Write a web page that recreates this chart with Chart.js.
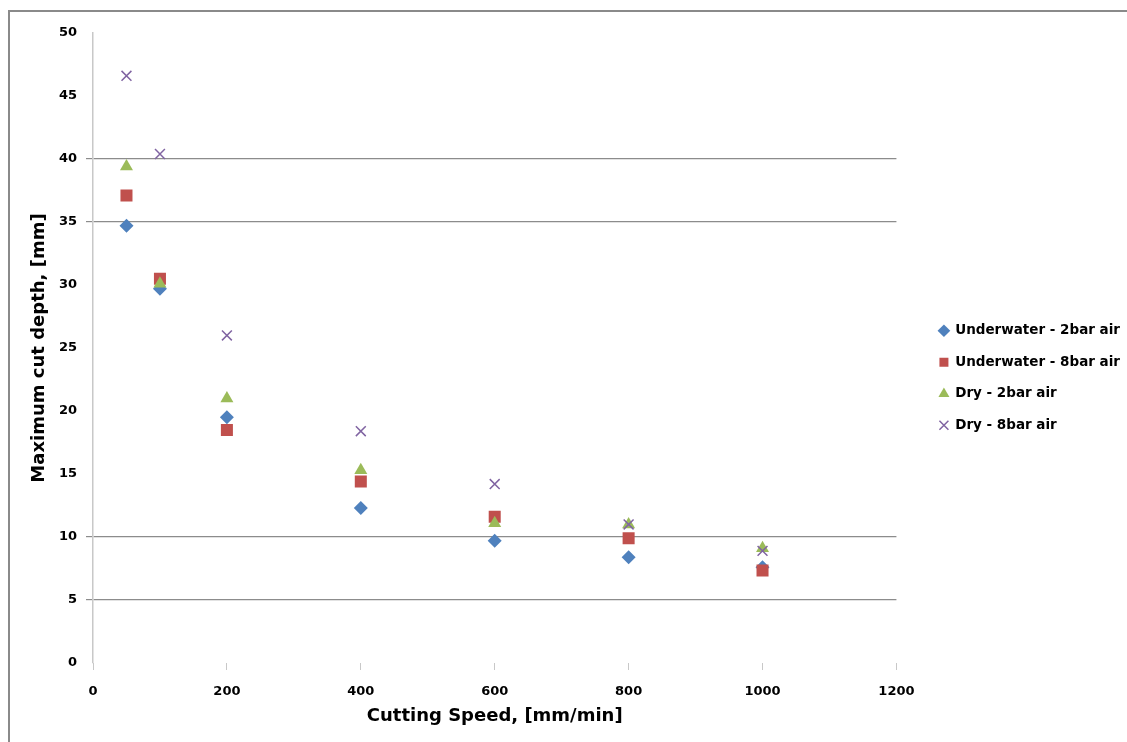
<!DOCTYPE html>
<html>
<head>
<meta charset="utf-8">
<script src="https://cdn.jsdelivr.net/npm/chart.js@4.4.0/dist/chart.umd.min.js"></script>
<style>
  html, body { margin: 0; padding: 0; background: #fff; overflow: hidden; }
  #frame {
    position: absolute;
    left: 8px;
    top: 10px;
    right: -6px;
    bottom: -6px;
    border-left: 2px solid #8a8a8a;
    border-top: 2px solid #8a8a8a;
  }
  #grafico { display: block; }
</style>
</head>
<body>
<div id="frame">
  <canvas id="grafico" width="1117" height="730"></canvas>
</div>
<script>
const velocidades = [50, 100, 200, 400, 600, 800, 1000];

const underwater2bar = [34.7, 29.7, 19.5, 12.3, 9.7, 8.4, 7.6];
const underwater8bar = [37.1, 30.5, 18.5, 14.4, 11.6, 9.9, 7.35];
const dry2bar = [39.4, 30.1, 21.0, 15.3, 11.1, 11.0, 9.1];
const dry8bar = [46.6, 40.4, 26.0, 18.4, 14.2, 11.0, 8.9];

const ticksX = [0, 200, 400, 600, 800, 1000, 1200];
const ticksY = [0, 5, 10, 15, 20, 25, 30, 35, 40, 45, 50];
const linhasVisiveis = [5, 10, 35, 40];

const fonte = "'DejaVu Sans', sans-serif";
const folga = 22; // espaço entre o gráfico e a legenda

function pontos(valores) {
  return velocidades.map((x, i) => ({ x: x, y: valores[i] }));
}

const series = [
  { label: "Underwater - 2bar air", data: underwater2bar, cor: "#4f81bd", estilo: "rectRot", raio: 7 },
  { label: "Underwater - 8bar air", data: underwater8bar, cor: "#c0504d", estilo: "rect", raio: 8.5 },
  { label: "Dry - 2bar air", data: dry2bar, cor: "#9bbb59", estilo: "triangle", raio: 7.5 },
  { label: "Dry - 8bar air", data: dry8bar, cor: "#8064a2", estilo: "crossRot", raio: 7 },
];

// alarga a legenda e empurra ela para a direita, deixando um vão
const folgaLegenda = {
  id: "folgaLegenda",
  beforeLayout(chart) {
    const legenda = chart.legend;
    if (legenda && !legenda._comFolga) {
      const fitOriginal = legenda.fit;
      legenda.fit = function () {
        fitOriginal.call(this);
        this.width += folga;
      };
      legenda._comFolga = true;
    }
  },
  afterLayout(chart) {
    if (!chart.legend) return;
    chart.legend.left += folga + 3;
    chart.legend.right += folga + 3;
  },
};

const ctx = document.getElementById("grafico").getContext("2d");

new Chart(ctx, {
  type: "scatter",
  data: {
    // séries seguintes desenhadas por cima, como no original
    datasets: series.map((s, i) => ({
      label: s.label,
      data: pontos(s.data),
      order: series.length - i,
      pointStyle: s.estilo,
      pointRadius: s.raio,
      pointHoverRadius: s.raio,
      backgroundColor: s.cor,
      borderColor: s.cor,
      borderWidth: s.estilo === "crossRot" ? 1.5 : 0,
    })),
  },
  plugins: [folgaLegenda],
  options: {
    responsive: false,
    animation: false,
    layout: {
      padding: { top: 21, right: 0, bottom: 19, left: 0 },
    },
    plugins: {
      legend: {
        position: "right",
        labels: {
          usePointStyle: true,
          boxWidth: 9,
          boxHeight: 9,
          padding: 18,
          color: "#000",
          font: { family: fonte, size: 13.5, weight: "bold" },
          sort: (a, b) => a.datasetIndex - b.datasetIndex,
        },
      },
      tooltip: { enabled: false },
    },
    scales: {
      x: {
        type: "linear",
        min: 0,
        max: 1200,
        afterBuildTicks: (scale) => {
          scale.ticks = ticksX.map((v) => ({ value: v }));
        },
        afterFit: (scale) => {
          scale.height = 60;
        },
        border: { display: false },
        grid: {
          drawOnChartArea: false,
          drawTicks: true,
          tickLength: 7,
          color: "#c8c8c8",
        },
        ticks: {
          padding: 14,
          color: "#000",
          font: { family: fonte, size: 13, weight: "bold" },
          callback: (v) => String(v),
        },
        title: {
          display: true,
          text: "Cutting Speed, [mm/min]",
          color: "#000",
          padding: { top: 0, bottom: -4 },
          font: { family: fonte, size: 18, weight: "bold" },
        },
      },
      y: {
        type: "linear",
        min: 0,
        max: 50,
        afterBuildTicks: (scale) => {
          scale.ticks = ticksY.map((v) => ({ value: v }));
        },
        afterFit: (scale) => {
          scale.width = 83;
        },
        border: { display: true, color: "#c8c8c8", width: 1.5 },
        grid: {
          tickLength: 7,
          lineWidth: 1.2,
          color: (c) => (linhasVisiveis.includes(c.tick && c.tick.value) ? "#8c8c8c" : "rgba(0,0,0,0)"),
        },
        ticks: {
          padding: 9,
          color: "#000",
          font: { family: fonte, size: 13, weight: "bold" },
          callback: (v) => String(v),
        },
        title: {
          display: true,
          text: "Maximum cut depth, [mm]",
          color: "#000",
          padding: { top: 19, bottom: 0 },
          font: { family: fonte, size: 18, weight: "bold" },
        },
      },
    },
  },
});
</script>
</body>
</html>
